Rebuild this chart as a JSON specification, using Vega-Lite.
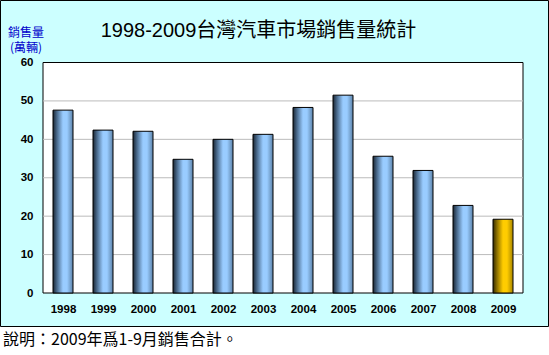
{
  "$schema": "https://vega.github.io/schema/vega-lite/v6.json",
  "width": 548,
  "height": 326,
  "padding": {"left": 0, "top": 0, "right": 1, "bottom": 29},
  "autosize": {"type": "none"},
  "background": "white",
  "view": {"fill": "#CCFFFF", "stroke": "#000000", "strokeWidth": 1},
  "title": {
    "text": "1998-2009台灣汽車市場銷售量統計",
    "fontSize": 20,
    "font": "Liberation Sans, Noto Sans CJK TC",
    "fontWeight": "normal",
    "color": "#000000",
    "anchor": "middle",
    "frame": "group",
    "offset": -57,
    "baseline": "alphabetic",
    "dx": -15.5
  },
  "datasets": {
    "sales": [
      {"year": 1998, "sales": 47.6},
      {"year": 1999, "sales": 42.4},
      {"year": 2000, "sales": 42.1},
      {"year": 2001, "sales": 34.8},
      {"year": 2002, "sales": 40.0},
      {"year": 2003, "sales": 41.3},
      {"year": 2004, "sales": 48.3},
      {"year": 2005, "sales": 51.5},
      {"year": 2006, "sales": 35.6},
      {"year": 2007, "sales": 31.9},
      {"year": 2008, "sales": 22.8},
      {"year": 2009, "sales": 19.2}
    ],
    "grid": [{"g": 10}, {"g": 20}, {"g": 30}, {"g": 40}, {"g": 50}]
  },
  "layer": [
    {
      "data": {"values": [{"panel": "plot"}]},
      "mark": {"type": "rect", "fill": "#FFFFFF", "stroke": "#000000", "strokeWidth": 1},
      "encoding": {
        "x": {
          "datum": 1997.5, "type": "quantitative",
          "scale": {"domain": [1996.425, 2010.125], "nice": false, "zero": false, "padding": 0},
          "axis": {
            "values": [1998, 1999, 2000, 2001, 2002, 2003, 2004, 2005, 2006, 2007, 2008, 2009],
            "format": "d",
            "offset": -33,
            "domain": false,
            "ticks": false,
            "tickSize": 0,
            "grid": false,
            "labelFont": "Liberation Sans",
            "labelFontSize": 11.5,
            "labelFontWeight": "bold",
            "labelColor": "#000000",
            "labelPadding": 10,
            "labelFlush": false,
            "labelOverlap": false,
            "labelBound": false,
            "title": "說明：2009年爲1-9月銷售合計。",
            "titleFont": "Noto Sans CJK TC",
            "titleFontSize": 16,
            "titleFontWeight": "normal",
            "titleColor": "#000000",
            "titleX": 2.5,
            "titleY": 51,
            "titleAlign": "left",
            "titleAnchor": "start",
            "titleBaseline": "alphabetic"
          }
        },
        "x2": {"datum": 2009.5},
        "y": {
          "datum": 0, "type": "quantitative",
          "scale": {"domain": [-8.59, 76.27], "nice": false, "zero": false, "padding": 0},
          "axis": {
            "values": [0, 10, 20, 30, 40, 50, 60],
            "offset": -43,
            "domain": false,
            "ticks": false,
            "tickSize": 0,
            "grid": false,
            "labelFont": "Liberation Sans",
            "labelFontSize": 11.5,
            "labelFontWeight": "bold",
            "labelColor": "#000000",
            "labelPadding": 10,
            "labelFlush": false,
            "labelOverlap": false,
            "title": ["銷售量", "(萬輛)"],
            "titleFont": "Noto Sans CJK TC",
            "titleFontSize": 12,
            "titleFontWeight": "normal",
            "titleColor": "#0000CC",
            "titleAngle": 0,
            "titleX": -17.5,
            "titleY": 27,
            "titleAlign": "center",
            "titleBaseline": "top",
            "titleLineHeight": 15
          }
        },
        "y2": {"datum": 60}
      }
    },
    {
      "data": {"name": "grid"},
      "mark": {"type": "rule", "stroke": "#BBBBBB", "strokeWidth": 1},
      "encoding": {
        "x": {"datum": 1997.5, "type": "quantitative"},
        "x2": {"datum": 2009.5},
        "y": {"field": "g", "type": "quantitative"}
      }
    },
    {
      "data": {"name": "sales"},
      "transform": [{"filter": "datum.year != 2009"}],
      "mark": {
        "type": "bar",
        "width": 20,
        "stroke": "#000000",
        "strokeWidth": 1,
        "color": {
          "gradient": "linear", "x1": 0, "x2": 1, "y1": 0, "y2": 0,
          "stops": [
            {"offset": 0, "color": "#1A2633"},
            {"offset": 0.2, "color": "#4A6A8C"},
            {"offset": 0.5, "color": "#99CCFF"},
            {"offset": 0.7, "color": "#99CCFF"},
            {"offset": 1, "color": "#5C82A8"}
          ]
        }
      },
      "encoding": {
        "x": {"field": "year", "type": "quantitative"},
        "y": {"field": "sales", "type": "quantitative"},
        "y2": {"datum": 0}
      }
    },
    {
      "data": {"name": "sales"},
      "transform": [{"filter": "datum.year == 2009"}],
      "mark": {
        "type": "bar",
        "width": 20,
        "stroke": "#000000",
        "strokeWidth": 1,
        "color": {
          "gradient": "linear", "x1": 0, "x2": 1, "y1": 0, "y2": 0,
          "stops": [
            {"offset": 0, "color": "#332A00"},
            {"offset": 0.2, "color": "#8C7000"},
            {"offset": 0.5, "color": "#FFCC00"},
            {"offset": 0.7, "color": "#FFCC00"},
            {"offset": 1, "color": "#A88600"}
          ]
        }
      },
      "encoding": {
        "x": {"field": "year", "type": "quantitative"},
        "y": {"field": "sales", "type": "quantitative"},
        "y2": {"datum": 0}
      }
    }
  ]
}
